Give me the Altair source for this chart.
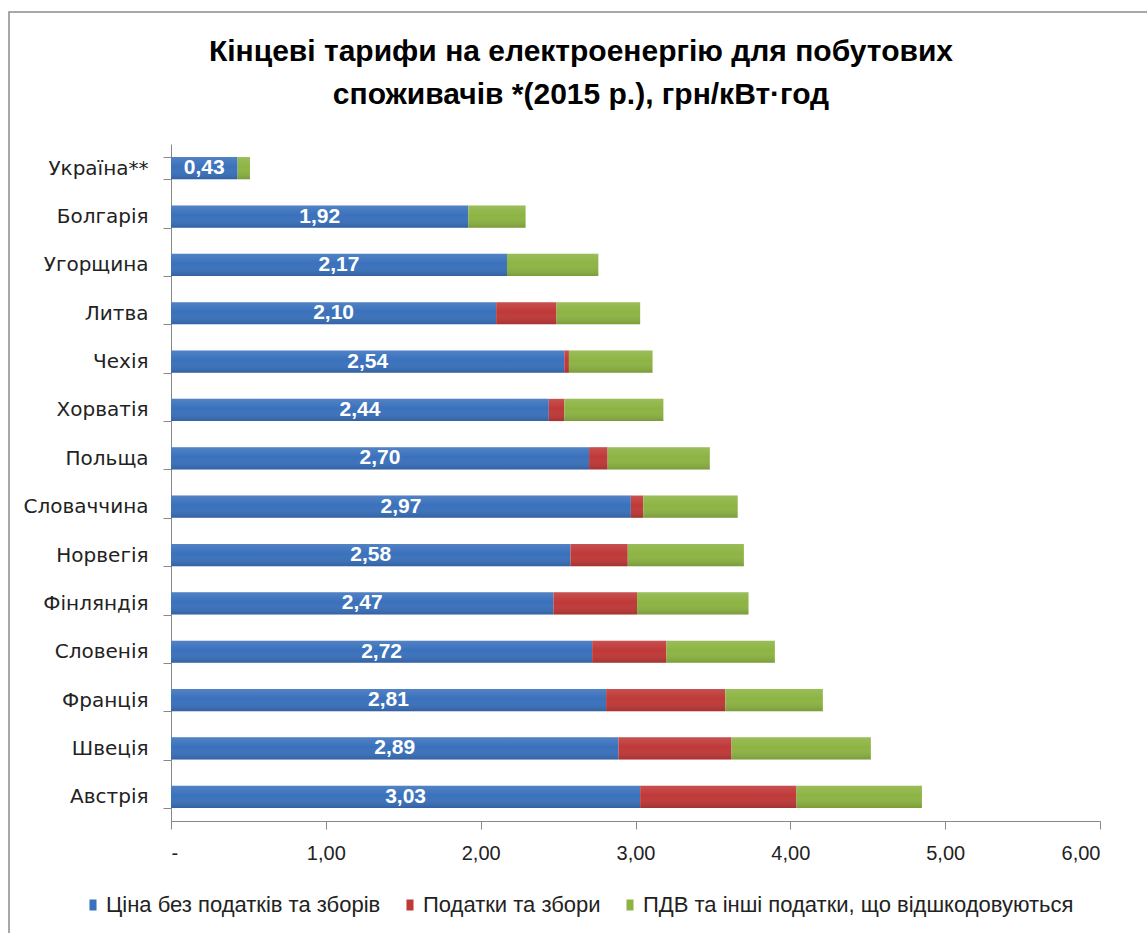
import altair as alt
import pandas as pd

countries = ["Україна**", "Болгарія", "Угорщина", "Литва", "Чехія", "Хорватія", "Польща",
             "Словаччина", "Норвегія", "Фінляндія", "Словенія", "Франція", "Швеція", "Австрія"]
price = [0.43, 1.92, 2.17, 2.10, 2.54, 2.44, 2.70, 2.97, 2.58, 2.47, 2.72, 2.81, 2.89, 3.03]
taxes = [0.00, 0.00, 0.00, 0.39, 0.03, 0.10, 0.12, 0.08, 0.37, 0.54, 0.48, 0.77, 0.73, 1.01]
vat = [0.08, 0.37, 0.59, 0.54, 0.54, 0.64, 0.66, 0.61, 0.75, 0.72, 0.70, 0.63, 0.90, 0.81]

series = ["Ціна без податків та зборів", "Податки та збори",
          "ПДВ та інші податки, що відшкодовуються"]
colors = ["#3A71BC", "#BF3938", "#8DB443"]

title_lines = ["Кінцеві тарифи на електроенергію для побутових",
               "споживачів *(2015 р.), грн/кВт·год"]

rows = []
for i, c in enumerate(countries):
    for k, (s, vals) in enumerate(zip(series, [price, taxes, vat])):
        rows.append({"country": c, "series": s, "order": k, "value": vals[i]})
df = pd.DataFrame(rows)
lab = pd.DataFrame({"country": countries, "price": price, "taxes": taxes, "vat": vat})

FONT = "Liberation Sans, sans-serif"

y_enc = alt.Y("country:N", sort=countries, title=None,
              scale=alt.Scale(paddingInner=0.54, paddingOuter=0.27),
              axis=alt.Axis(tickBand="extent", tickSize=8, tickColor="#888888",
                            domainColor="#888888", labelFont="DejaVu Sans",
                            labelFontSize=20, labelColor="#222222", labelPadding=15))

bars = alt.Chart(df).mark_bar().encode(
    y=y_enc,
    x=alt.X("value:Q", stack="zero", title=None,
            scale=alt.Scale(domain=[0, 6], nice=False),
            axis=alt.Axis(values=[0, 1, 2, 3, 4, 5, 6], grid=False, tickSize=8,
                          tickColor="#888888", domainColor="#888888",
                          labelFont=FONT, labelFontSize=20, labelColor="#222222",
                          labelPadding=14,
                          labelExpr="datum.value == 0 ? '-' : replace(format(datum.value, '.2f'), '.', ',')")),
    color=alt.Color("series:N", sort=series,
                    scale=alt.Scale(domain=series, range=colors),
                    legend=alt.Legend(title=None, orient="none", direction="horizontal",
                                      legendX=-89, legendY=750,
                                      symbolType="M-0.64,-1L0.64,-1L0.64,1L-0.64,1Z",
                                      symbolSize=121, symbolStrokeWidth=0,
                                      labelFont=FONT, labelFontSize=22, labelLimit=0,
                                      labelOffset=2,
                                      labelColor="#222222", columnPadding=18)),
    order=alt.Order("order:Q"),
)

shade = alt.Chart(lab).transform_calculate(
    total="datum.price + datum.taxes + datum.vat"
).mark_bar(
    fill=alt.Gradient(
        gradient="linear", x1=0, x2=0, y1=0, y2=1,
        stops=[alt.GradientStop(color="rgba(255,255,255,0.12)", offset=0),
               alt.GradientStop(color="rgba(255,255,255,0.0)", offset=0.45),
               alt.GradientStop(color="rgba(0,0,0,0.14)", offset=1)]),
).encode(y=alt.Y("country:N", sort=countries), x=alt.X("total:Q"))

labels = alt.Chart(lab).transform_calculate(
    mid="datum.price / 2",
    txt="replace(format(datum.price, '.2f'), '.', ',')",
).mark_text(color="white", fontWeight="bold", fontSize=21, font=FONT).encode(
    y=alt.Y("country:N", sort=countries),
    x=alt.X("mid:Q"),
    text="txt:N",
)

title_df = pd.DataFrame({"line": title_lines, "k": [0, 1]})
title1 = alt.Chart(title_df).transform_filter("datum.k == 0").mark_text(
    font=FONT, fontSize=30, fontWeight="bold", color="#000000", baseline="middle"
).encode(text="line:N", x=alt.value(410), y=alt.value(-92))
title2 = alt.Chart(title_df).transform_filter("datum.k == 1").mark_text(
    font=FONT, fontSize=30, fontWeight="bold", color="#000000", baseline="middle"
).encode(text="line:N", x=alt.value(410), y=alt.value(-49))

border = alt.Chart(pd.DataFrame({"a": [0]})).mark_rect(
    fill=None, stroke="#8c8c8c", strokeWidth=1.5
).encode(x=alt.value(-162), x2=alt.value(1000), y=alt.value(-132), y2=alt.value(820))

chart = alt.layer(border, bars, shade, labels, title1, title2).properties(
    width=929, height=677,
    autosize=alt.AutoSizeParams(type="none"),
    padding={"left": 171, "top": 144, "right": 47, "bottom": 112},
).configure_view(stroke=None)

chart.save("out.html", embed_options={"renderer": "svg", "actions": False})
